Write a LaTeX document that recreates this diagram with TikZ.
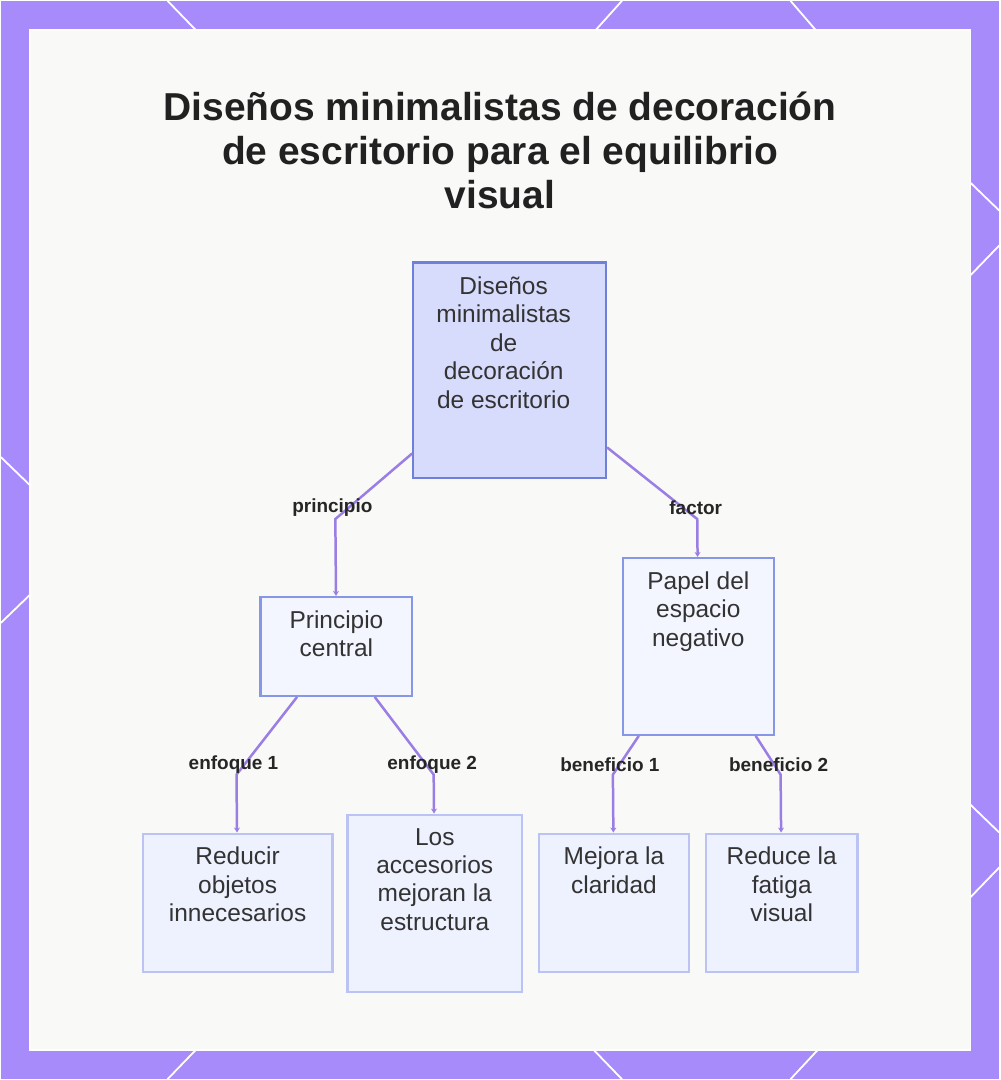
\documentclass[tikz,border=0pt]{standalone}
\usepackage{fontspec}
\setmainfont{Liberation Sans}
\usetikzlibrary{positioning,calc,arrows.meta}
\definecolor{framepurple}{RGB}{167,139,250}
\definecolor{panelwhite}{RGB}{249,249,248}
\definecolor{linkpurple}{RGB}{155,126,228}
\definecolor{rootfill}{RGB}{216,220,252}
\definecolor{rootline}{RGB}{111,128,218}
\definecolor{midfill}{RGB}{243,245,255}
\definecolor{midline}{RGB}{135,151,230}
\definecolor{leaffill}{RGB}{238,241,254}
\definecolor{leafline}{RGB}{186,195,243}
\definecolor{inkdark}{RGB}{51,51,51}

\begin{document}
\begin{tikzpicture}[x=1pt,y=-1pt,
  box/.style={draw,line width=2.2pt,anchor=north west,inner sep=0pt},
  rootbox/.style={box,draw=rootline,fill=rootfill},
  midbox/.style={box,draw=midline,fill=midfill},
  leafbox/.style={box,draw=leafline,fill=leaffill},
  txt/.style={anchor=north,align=center,inner sep=0pt,text=inkdark,
              font=\fontsize{24.5}{28.5}\selectfont},
  lbl/.style={font=\bfseries\fontsize{19}{21}\selectfont,text=black!85},
  link/.style={draw=linkpurple,line width=2.5pt,-{Stealth[length=5pt,width=6pt]}},
  deco/.style={draw=white,line width=1.8pt}]
  % frame and panel
  \fill[framepurple] (0,0) rectangle (1000,1080);
  \foreach \a/\b in {167/195,622/596,791/816}
    \draw[deco] (\a,0) -- (\b,29);
  \foreach \a/\b in {195/167,594/622,818/791}
    \draw[deco] (\a,1051) -- (\b,1080);
  \draw[deco] (0,457) -- (29,485);
  \draw[deco] (29,595) -- (0,623);
  \foreach \t in {182,805}{
    \draw[deco] (971,\t) -- (1000,\t+28);
    \draw[deco] (1000,\t+63) -- (971,\t+93);
  }
  \path[fill=panelwhite,draw=white,line width=1.5pt] (29,29) rectangle (971,1051);
  \useasboundingbox (0,0) rectangle (1000,1080);

  \node[font=\bfseries\fontsize{39}{44}\selectfont,text=black!87,align=center]
    (title) at (500,150) {Diseños minimalistas de decoración\\de escritorio para el equilibrio\\visual};

  % boxes
  \node[rootbox,minimum width=193pt,minimum height=216pt] (root) at (412,261) {};
  \node[txt] (roott) at ([xshift=-6pt,yshift=-15pt]root.north) {Diseños\\minimalistas\\de\\decoración\\de escritorio};
  \node[midbox,minimum width=152pt,minimum height=99pt] (core) at (259,596) {};
  \node[txt] (coret) at ([yshift=-14.5pt]core.north) {Principio\\central};
  \node[midbox,minimum width=151pt,minimum height=177pt] (space) at (622,557) {};
  \node[txt] (spacet) at ([yshift=-14.5pt]space.north) {Papel del\\espacio\\negativo};
  \node[leafbox,minimum width=190pt,minimum height=139pt] (reduce) at (141,833) {};
  \node[txt] (reducet) at ([yshift=-14.5pt]reduce.north) {Reducir\\objetos\\innecesarios};
  \node[leafbox,minimum width=175pt,minimum height=178pt] (acc) at (346,814) {};
  \node[txt] (acct) at ([yshift=-14.5pt]acc.north) {Los\\accesorios\\mejoran la\\estructura};
  \node[leafbox,minimum width=150pt,minimum height=139pt] (clear) at (538,833) {};
  \node[txt] (cleart) at ([yshift=-14.5pt]clear.north) {Mejora la\\claridad};
  \node[leafbox,minimum width=152pt,minimum height=139pt] (fatigue) at (705,833) {};
  \node[txt] (fatiguet) at ([yshift=-14.5pt]fatigue.north) {Reduce la\\fatiga\\visual};

  % connectors
  \coordinate (k1) at (335,519);
  \coordinate (k2) at (697.5,519);
  \coordinate (k3) at (236,775);
  \coordinate (k4) at (433.5,775);
  \coordinate (k5) at (613,775);
  \coordinate (k6) at (781,775);
  \draw[link] (root) -- (k1) -- (core);
  \draw[link] (root) -- (k2) -- (space);
  \draw[link] (core) -- (k3) -- (reduce);
  \draw[link] (core) -- (k4) -- (acc);
  \draw[link] (space) -- (k5) -- (clear);
  \draw[link] (space) -- (k6) -- (fatigue);

  \node[lbl] (l1) at (332,508) {principio};
  \node[lbl] (l2) at (696,508) {factor};
  \node[lbl] (l3) at (233,765) {enfoque 1};
  \node[lbl] (l4) at (432,765) {enfoque 2};
  \node[lbl] (l5) at (610,765) {beneficio 1};
  \node[lbl] (l6) at (779,765) {beneficio 2};
\end{tikzpicture}
\end{document}
